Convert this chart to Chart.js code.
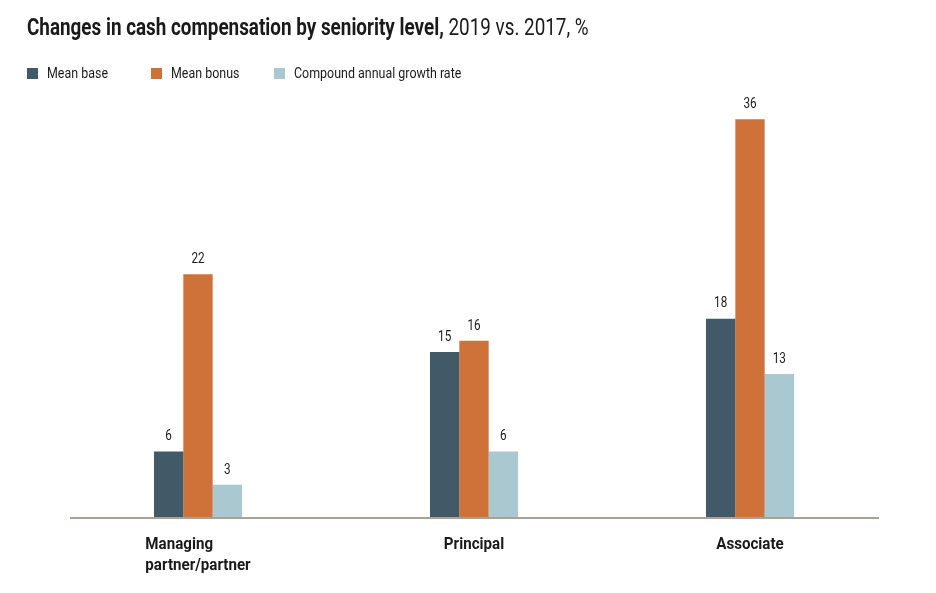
<!DOCTYPE html>
<html>
<head>
<meta charset="utf-8">
<script src="https://cdn.jsdelivr.net/npm/chart.js@4.4.1/dist/chart.umd.min.js"></script>
<style>
  html, body { margin: 0; padding: 0; background: #fff; }
</style>
</head>
<body>
<canvas id="comp-chart" width="936" height="593"></canvas>
<script>
const FONT = "Roboto, 'Noto Sans', sans-serif";

const categories = [["Managing", "partner/partner"], ["Principal"], ["Associate"]];
const meanBase = [6, 15, 18];
const meanBonus = [22, 16, 36];
const cagr = [3, 6, 13];
const seriesNames = ["Mean base", "Mean bonus", "Compound annual growth rate"];
const seriesColors = ["#425a68", "#cf723a", "#aac8d0"];

// Vẽ chữ co hẹp theo chiều ngang (giống font condensed)
function condText(ctx, text, x, y, sx, align) {
    ctx.save();
    ctx.translate(x, y);
    ctx.scale(sx, 1);
    ctx.textAlign = align || 'left';
    ctx.fillText(text, 0, 0);
    ctx.restore();
}

// Tiêu đề + chú thích
const headerPlugin = {
    id: 'header',
    afterDraw(chart) {
        const ctx = chart.ctx;
        const sx = 0.82;
        ctx.save();
        ctx.textBaseline = 'middle';
        ctx.fillStyle = '#1a1a1a';
        ctx.font = "bold 23px " + FONT;
        const bold = "Changes in cash compensation by seniority level,";
        condText(ctx, bold, 27, 29, sx);
        const w = ctx.measureText(bold).width * sx;
        ctx.font = "23px " + FONT;
        condText(ctx, " 2019 vs. 2017, %", 27 + w, 29, sx);

        const cols = [27, 151, 274];
        ctx.font = "15px " + FONT;
        seriesNames.forEach((name, i) => {
            ctx.fillStyle = seriesColors[i];
            ctx.fillRect(cols[i], 68, 11, 11);
            ctx.fillStyle = '#1a1a1a';
            condText(ctx, name, cols[i] + 20, 74, 0.83);
        });
        ctx.restore();
    }
};

// Trục, nhãn danh mục và nhãn giá trị
const axisPlugin = {
    id: 'axisLabels',
    afterDatasetsDraw(chart) {
        const ctx = chart.ctx;
        const y0 = chart.scales.y.getPixelForValue(0);
        const xScale = chart.scales.x;
        ctx.save();
        ctx.strokeStyle = '#a9a29b';
        ctx.lineWidth = 2;
        ctx.beginPath();
        ctx.moveTo(70, y0);
        ctx.lineTo(879, y0);
        ctx.stroke();

        ctx.fillStyle = '#1a1a1a';
        ctx.textBaseline = 'middle';
        ctx.font = "15px " + FONT;
        chart.data.datasets.forEach((ds, di) => {
            chart.getDatasetMeta(di).data.forEach((bar, i) => {
                condText(ctx, String(ds.data[i]), bar.x, bar.y - 15, 0.78, 'center');
            });
        });

        const sx = 0.89;
        ctx.font = "bold 17px " + FONT;
        categories.forEach((lines, i) => {
            const cx = xScale.getPixelForValue(i);
            const maxW = Math.max(...lines.map(l => ctx.measureText(l).width)) * sx;
            lines.forEach((line, li) => {
                condText(ctx, line, cx - maxW / 2, y0 + 27 + li * 21, sx);
            });
        });
        ctx.restore();
    }
};

function compensationChart() {
    const ctx = document.getElementById('comp-chart');
    new Chart(ctx, {
        type: 'bar',
        data: {
            labels: categories.map(c => c.join(' ')),
            datasets: [
                { label: seriesNames[0], data: meanBase, backgroundColor: seriesColors[0] },
                { label: seriesNames[1], data: meanBonus, backgroundColor: seriesColors[1] },
                { label: seriesNames[2], data: cagr, backgroundColor: seriesColors[2] },
            ],
        },
        options: {
            responsive: false,
            animation: false,
            devicePixelRatio: 1,
            layout: { padding: { left: 60, right: 48, top: 75, bottom: 75 } },
            datasets: {
                bar: { barPercentage: 1.0, categoryPercentage: 0.319, borderWidth: 0 }
            },
            scales: {
                x: { display: false },
                y: { display: false, min: 0, max: 40 },
            },
            plugins: {
                legend: { display: false },
                tooltip: { enabled: false },
            },
        },
        plugins: [headerPlugin, axisPlugin],
    });
}

compensationChart();
</script>
</body>
</html>
